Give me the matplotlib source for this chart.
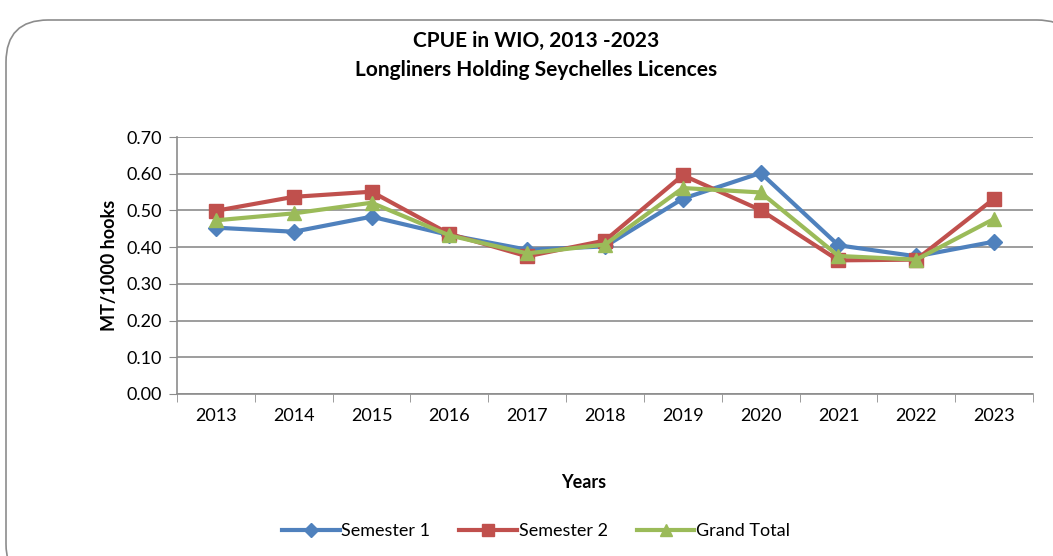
import matplotlib
matplotlib.use("Agg")
import matplotlib.pyplot as plt
from matplotlib.patches import FancyBboxPatch
import numpy as np

years = ["2013", "2014", "2015", "2016", "2017", "2018", "2019", "2020", "2021", "2022", "2023"]
semester1 = [0.453, 0.442, 0.483, 0.433, 0.393, 0.402, 0.532, 0.602, 0.405, 0.375, 0.415]
semester2 = [0.499, 0.537, 0.551, 0.436, 0.375, 0.418, 0.596, 0.501, 0.364, 0.366, 0.532]
grand_total = [0.473, 0.492, 0.521, 0.432, 0.383, 0.407, 0.561, 0.549, 0.376, 0.366, 0.477]
y_ticks = [0.0, 0.1, 0.2, 0.3, 0.4, 0.5, 0.6, 0.7]

plt.rcParams['font.family'] = 'Lato'

W, H = 1053, 556
fig = plt.figure(figsize=(W / 100, H / 100), dpi=100)

# rounded border
border = FancyBboxPatch((6 / W, -30 / H), (W + 20) / W, (H + 10) / H,
                        boxstyle="round,pad=0,rounding_size=0.04",
                        transform=fig.transFigure, facecolor="white",
                        edgecolor="#8c8c8c", linewidth=1.2, zorder=-10,
                        mutation_aspect=W / H)
fig.patches.append(border)

ax = fig.add_axes([177 / W, 1 - 394 / H, (1033 - 177) / W, (394 - 137) / H])
ax.set_zorder(5)
ax.set_facecolor("none")
x = np.arange(len(years))

ax.plot(x, semester1, color="#4F81BD", lw=3.0, marker="D", ms=8.5, label="Semester 1", zorder=3)
ax.plot(x, semester2, color="#C0504D", lw=3.0, marker="s", ms=10, label="Semester 2", zorder=4)
ax.plot(x, grand_total, color="#9BBB59", lw=3.0, marker="^", ms=10.5, label="Grand Total", zorder=5)

ax.set_xlim(-0.5, len(years) - 0.5)
ax.set_ylim(0, 0.7)
ax.set_yticks(y_ticks)
ax.set_yticklabels([f"{v:.2f}" for v in y_ticks], fontsize=13)
ax.set_xticks(x)
ax.set_xticklabels(years, fontsize=13)
ax.set_xticks(np.arange(-0.5, len(years)), minor=True)
ax.tick_params(axis="x", which="major", length=0, pad=10)
ax.tick_params(axis="x", which="minor", length=6, color="#8c8c8c", direction="out")
ax.tick_params(axis="y", length=6, color="#8c8c8c", direction="out", pad=5)
ax.grid(axis="y", color="#8c8c8c", lw=1.2)
ax.set_axisbelow(True)
for s in ["top", "right"]:
    ax.spines[s].set_visible(False)
for s in ["left", "bottom"]:
    ax.spines[s].set_color("#8c8c8c")
    ax.spines[s].set_linewidth(1.2)

ax.set_ylabel("MT/1000 hooks", fontsize=13, fontweight="bold", labelpad=6)
fig.text(584 / W, 1 - 482 / H, "Years", ha="center", va="center",
         fontsize=13, fontweight="bold")
fig.text(536 / W, 1 - 41 / H, "CPUE in WIO, 2013 -2023", ha="center", va="center",
         fontsize=15, fontweight="bold")
fig.text(536 / W, 1 - 70 / H, "Longliners Holding Seychelles Licences", ha="center", va="center",
         fontsize=15, fontweight="bold")

leg = fig.legend(loc="center", bbox_to_anchor=(536 / W, 1 - 531 / H), ncol=3, frameon=False,
                 fontsize=13, handlelength=3.2, handletextpad=0.1, columnspacing=1.6,
                 markerscale=0.8)

fig.savefig("out.png", dpi=100)
